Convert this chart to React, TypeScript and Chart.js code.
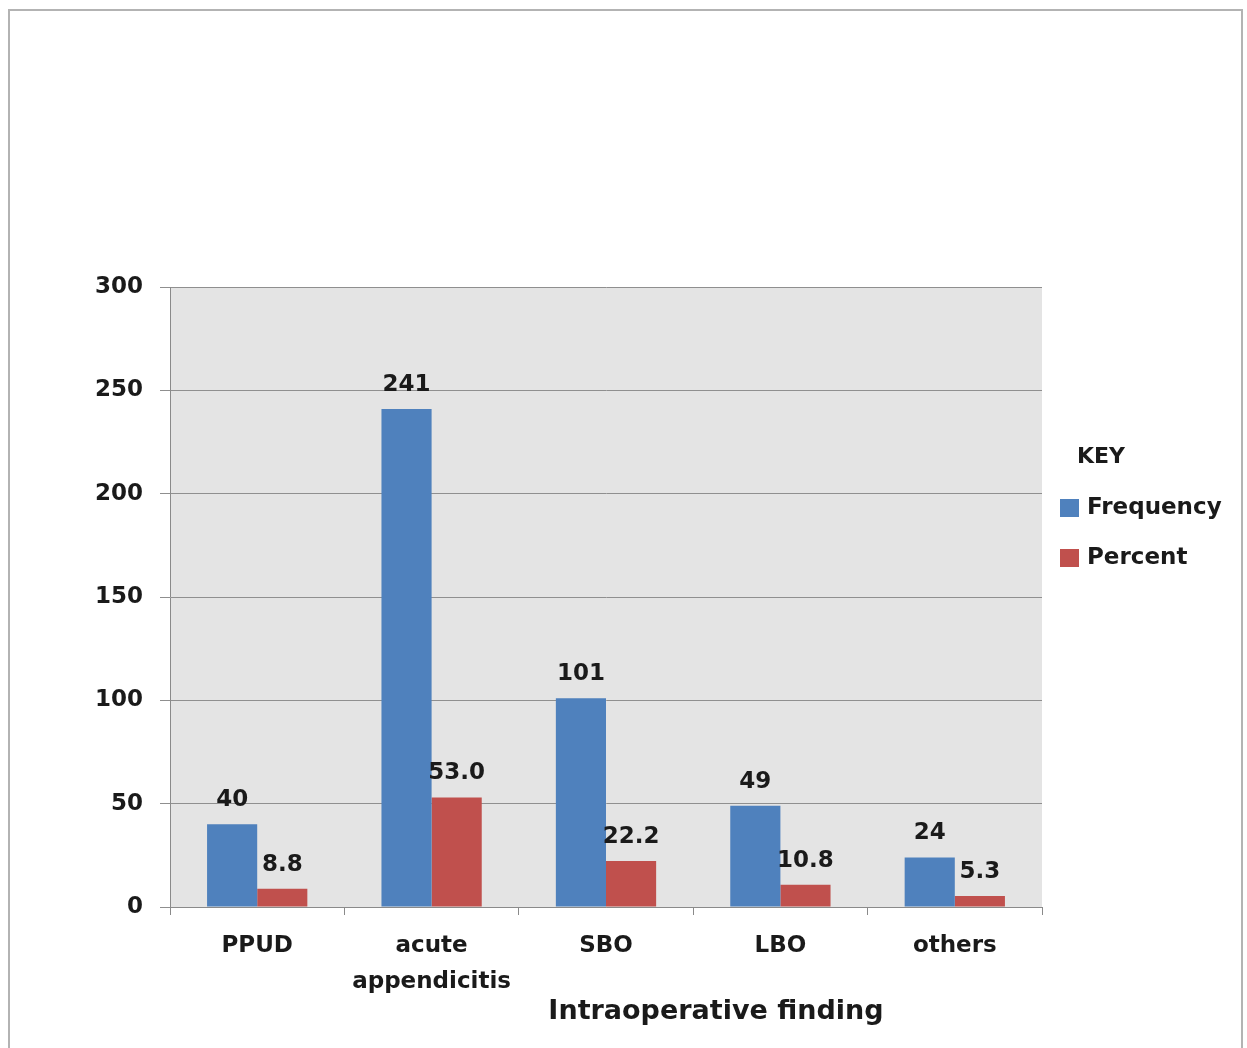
import React, { useEffect, useRef } from "react";
import { Chart, registerables } from "chart.js";

Chart.register(...registerables);

const categories: (string | string[])[] = ["PPUD", ["acute", "appendicitis"], "SBO", "LBO", "others"];
const frequency = [40, 241, 101, 49, 24];
const percent = [8.8, 53.0, 22.2, 10.8, 5.3];
const yTicks = [0, 50, 100, 150, 200, 250, 300];
const seriesNames = ["Frequency", "Percent"];
const legendTitle = "KEY";
const xTitle = "Intraoperative finding";

const BLUE = "#4f81bd";
const RED = "#c0504d";
const FONT = "'DejaVu Sans', sans-serif";

const W = 1247;
const H = 1048;

export default function App() {
  const ref = useRef<HTMLCanvasElement | null>(null);

  useEffect(() => {
    if (!ref.current) return;

    const decor = {
      id: "decor",
      beforeDraw(chart: any) {
        const { ctx, chartArea } = chart;
        ctx.save();
        ctx.fillStyle = "#ffffff";
        ctx.fillRect(0, 0, W, H);
        ctx.strokeStyle = "#b3b3b3";
        ctx.lineWidth = 2;
        ctx.strokeRect(9, 10, 1233, 1060);
        ctx.fillStyle = "#e4e4e4";
        ctx.fillRect(chartArea.left, chartArea.top, chartArea.right - chartArea.left, chartArea.bottom - chartArea.top);
        ctx.restore();
      },
      afterDatasetsDraw(chart: any) {
        const { ctx } = chart;
        ctx.save();
        ctx.font = `bold 23px ${FONT}`;
        ctx.fillStyle = "#1a1a1a";
        ctx.textAlign = "center";
        ctx.textBaseline = "alphabetic";
        chart.data.datasets.forEach((ds: any, di: number) => {
          const meta = chart.getDatasetMeta(di);
          meta.data.forEach((el: any, i: number) => {
            const v = ds.data[i];
            const txt = di === 1 ? v.toFixed(1) : String(v);
            ctx.fillText(txt, el.x, el.y - 18);
          });
        });
        ctx.restore();
      },
      afterDraw(chart: any) {
        const { ctx } = chart;
        ctx.save();
        ctx.fillStyle = "#1a1a1a";
        ctx.textBaseline = "middle";
        ctx.textAlign = "left";
        ctx.font = `bold 22px ${FONT}`;
        ctx.fillText(legendTitle, 1077, 457);
        const colors = [BLUE, RED];
        seriesNames.forEach((n, i) => {
          const y = 508 + i * 50;
          ctx.fillStyle = colors[i];
          ctx.fillRect(1060, y - 9, 19, 18);
          ctx.fillStyle = "#1a1a1a";
          ctx.font = `bold 23px ${FONT}`;
          ctx.fillText(n, 1087, y);
        });
        ctx.textAlign = "center";
        ctx.font = `bold 27px ${FONT}`;
        ctx.fillText(xTitle, 716, 1012);
        ctx.restore();
      },
    };

    const chart = new Chart(ref.current, {
      type: "bar",
      data: {
        labels: categories,
        datasets: [
          {
            label: seriesNames[0],
            data: frequency,
            backgroundColor: BLUE,
            barPercentage: 1,
            categoryPercentage: 0.575,
          },
          {
            label: seriesNames[1],
            data: percent,
            backgroundColor: RED,
            barPercentage: 1,
            categoryPercentage: 0.575,
          },
        ],
      },
      options: {
        responsive: false,
        animation: false,
        events: [],
        layout: { padding: { top: 287, right: 205, left: 0, bottom: 0 } },
        plugins: {
          legend: { display: false },
          tooltip: { enabled: false },
          title: { display: false },
        },
        scales: {
          x: {
            afterFit(scale: any) {
              scale.height = H - 907;
            },
            grid: {
              offset: true,
              drawOnChartArea: false,
              drawTicks: true,
              tickLength: 8,
              color: "#8a8a8a",
            },
            border: { display: true, color: "#8a8a8a", width: 1 },
            ticks: {
              color: "#1a1a1a",
              padding: 13,
              maxRotation: 0,
              autoSkip: false,
              font: { family: FONT, size: 23, weight: "bold", lineHeight: 1.56 },
            },
          },
          y: {
            min: 0,
            max: 300,
            afterFit(scale: any) {
              scale.width = 170;
            },
            afterBuildTicks(scale: any) {
              scale.ticks = yTicks.map((v) => ({ value: v }));
            },
            grid: {
              color: "#8f8f8f",
              tickLength: 10,
              drawTicks: true,
            },
            border: { display: true, color: "#8a8a8a", width: 1 },
            ticks: {
              color: "#1a1a1a",
              padding: 17,
              font: { family: FONT, size: 23, weight: "bold" },
            },
          },
        },
      },
      plugins: [decor],
    } as any);

    return () => chart.destroy();
  }, []);

  return (
    <div style={{ position: "absolute", left: 0, top: 0, width: W, height: H }}>
      <canvas ref={ref} width={W} height={H} style={{ display: "block" }} />
    </div>
  );
}
